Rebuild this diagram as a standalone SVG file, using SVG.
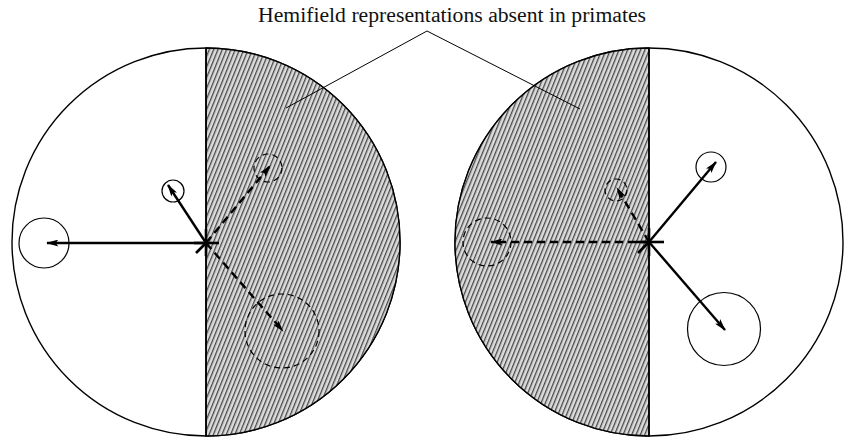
<svg xmlns="http://www.w3.org/2000/svg" width="845" height="440" viewBox="0 0 845 440">
<style>
.field{fill:#fff;stroke:#000;stroke-width:1.4}
.shade{fill:url(#hatch);stroke:#000;stroke-width:1.4}
.mid{stroke:#000;stroke-width:1.6}
.rf{fill:none;stroke:#000;stroke-width:1.2}
.rfd{fill:none;stroke:#000;stroke-width:1.2;stroke-dasharray:6 4}
.arr{stroke:#000;stroke-width:2.4;fill:none;marker-end:url(#ah)}
.arrd{stroke:#000;stroke-width:2.4;fill:none;stroke-dasharray:8 5;marker-end:url(#ah)}
.star{stroke:#000;stroke-width:2.6}
.lead{stroke:#000;stroke-width:1;fill:none}
.title{font-family:"Liberation Serif","DejaVu Serif",serif;font-size:20px;fill:#111}
</style>
<defs>
<pattern id="hatch" width="4" height="4" patternUnits="userSpaceOnUse" patternTransform="rotate(22)">
<rect width="4" height="4" fill="#dcdcdc"/>
<rect width="1.3" height="4" fill="#474747"/>
</pattern>
<marker id="ah" viewBox="0 0 14 8" refX="13" refY="4" markerWidth="14" markerHeight="7" markerUnits="userSpaceOnUse" orient="auto">
<path d="M0,0 L14,4 L0,8 L3,4 Z" fill="#000"/>
</marker>
</defs>
<rect width="845" height="440" fill="#fff"/>

<g id="title">
<text class="title" x="452" y="22" text-anchor="middle" textLength="388" lengthAdjust="spacingAndGlyphs">Hemifield representations absent in primates</text>
</g>

<g id="left-field">
<circle class="field" cx="206" cy="242" r="194"/>
<path class="shade" d="M206,48 A194,194 0 0 1 206,436 Z"/>
<line class="mid" x1="206" y1="48" x2="206" y2="436"/>
</g>

<g id="right-field">
<circle class="field" cx="649" cy="242" r="194"/>
<path class="shade" d="M649,48 A194,194 0 0 0 649,436 Z"/>
<line class="mid" x1="649" y1="48" x2="649" y2="436"/>
</g>

<g id="left-rf-small"><circle class="rf" cx="173" cy="191" r="11"/></g>
<g id="left-rf-large"><circle class="rf" cx="44" cy="243" r="25"/></g>
<g id="left-rf-dashed-small"><circle class="rfd" cx="268" cy="168" r="14"/></g>
<g id="left-rf-dashed-large"><circle class="rfd" cx="282" cy="331" r="37"/></g>

<g id="right-rf-dashed-small"><circle class="rfd" cx="616" cy="190" r="11"/></g>
<g id="right-rf-dashed-large"><circle class="rfd" cx="487" cy="242" r="24"/></g>
<g id="right-rf-small"><circle class="rf" cx="711" cy="167" r="15"/></g>
<g id="right-rf-large"><circle class="rf" cx="724" cy="329" r="36.5"/></g>

<g id="left-star">
<line class="star" x1="206" y1="229" x2="206" y2="256"/>
<line class="star" x1="194" y1="243" x2="219" y2="243"/>
<line class="star" x1="196" y1="253" x2="206" y2="243"/>
</g>
<g id="right-star">
<line class="star" x1="649" y1="228" x2="649" y2="256"/>
<line class="star" x1="636" y1="242" x2="664" y2="242"/>
<line class="star" x1="638" y1="253" x2="649" y2="242"/>
</g>

<g id="connectors">
<line class="arr" x1="206" y1="243" x2="168" y2="185"/>
<line class="arr" x1="206" y1="243" x2="47" y2="243"/>
<line class="arrd" x1="206" y1="243" x2="270" y2="166"/>
<line class="arrd" x1="206" y1="243" x2="283" y2="331"/>
<line class="arrd" x1="649" y1="242" x2="617" y2="188"/>
<line class="arrd" x1="649" y1="242" x2="491" y2="242"/>
<line class="arr" x1="649" y1="242" x2="716" y2="162"/>
<line class="arr" x1="649" y1="242" x2="725" y2="330"/>
<polyline class="lead" points="286,108 427,31 580,109"/>
</g>
</svg>
